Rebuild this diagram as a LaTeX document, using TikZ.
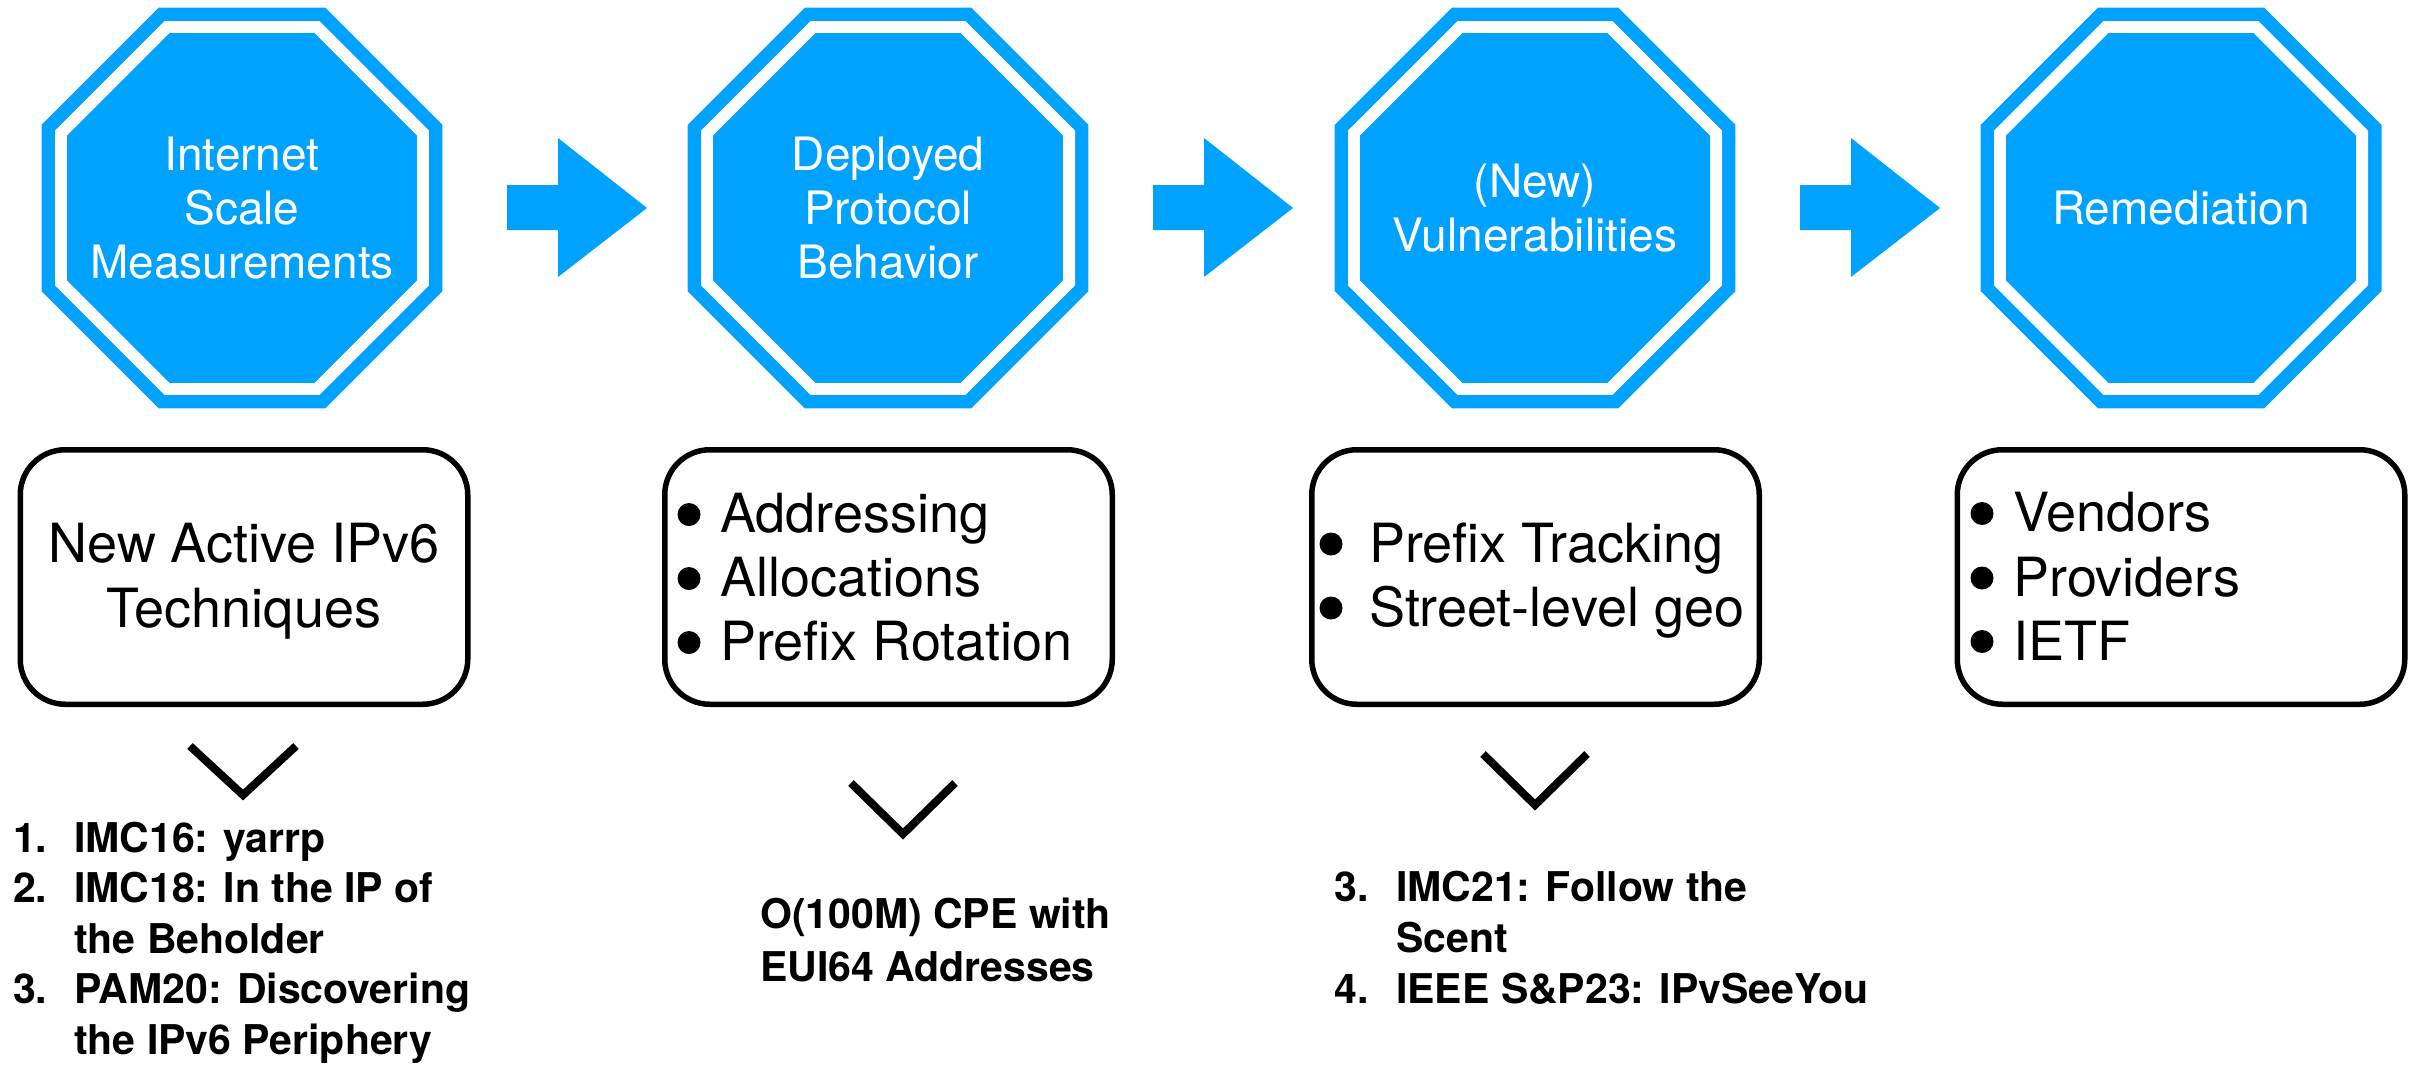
\documentclass[tikz,border=0pt]{standalone}
\usepackage{fontspec}
\setmainfont{TeX Gyre Heros}
\usetikzlibrary{calc}
\definecolor{kblue}{RGB}{0,162,255}
\def\octR#1{(22.5:#1) -- (67.5:#1) -- (112.5:#1) -- (157.5:#1) -- (202.5:#1) -- (247.5:#1) -- (292.5:#1) -- (337.5:#1) -- cycle}
\tikzset{
  octa/.pic={
    \fill[kblue] \octR{217};
    \fill[white] \octR{202.4};
    \fill[kblue] \octR{189.4};
  },
  octtext/.style={text=white, align=center, inner sep=0pt, font=\fontsize{46}{54}\selectfont},
  box/.style={draw=black, line width=5.5pt, rounded corners=45pt, minimum width=447.5pt, minimum height=254.5pt, inner sep=0pt},
  boxtext/.style={inner sep=0pt, anchor=base west, font=\fontsize{54}{64}\selectfont},
  bulletdot/.style={circle, fill=black, inner sep=0pt, minimum size=23pt},
  listtext/.style={inner sep=0pt, anchor=base west, font=\fontsize{41}{50}\selectfont\bfseries},
  chev/.style={line width=8pt, miter limit=10},
  blockarrow/.style={fill=kblue}
}
\begin{document}
\begin{tikzpicture}[x=1pt,y=-1pt]
\useasboundingbox (0,0) rectangle (2424,1066);

% octagons
\foreach \c/\n in {242/1,888/2,1535/3,2181/4}{
  \coordinate (o\n) at (\c,208);
  \pic at (o\n) {octa};
}
\node[octtext] (ot1) at (o1) {Internet\\Scale\\Measurements};
\node[octtext] (ot2) at (o2) {Deployed\\Protocol\\Behavior};
\node[octtext] (ot3) at (o3) {(New)\\Vulnerabilities};
\node[octtext] (ot4) at (o4) {Remediation};

% block arrows
\foreach \c in {242,888,1535}{
  \fill[blockarrow] (\c+265,185) -- (\c+316,185) -- (\c+316,138) -- (\c+405,208)
     -- (\c+316,277) -- (\c+316,230) -- (\c+265,230) -- cycle;
}

% boxes
\node[box] (b1) at (244,577) {};
\node[box] (b2) at (888.5,577) {};
\node[box] (b3) at (1535.5,577) {};
\node[box] (b4) at (2181,577) {};

\node[boxtext, anchor=base] (b1a) at (244,562) {New Active IPv6};
\node[boxtext, anchor=base] (b1b) at (244,627) {Techniques};

\node[bulletdot] (d2a) at (689,514.5) {};
\node[bulletdot] (d2b) at (689,578.5) {};
\node[bulletdot] (d2c) at (689,642.5) {};
\node[boxtext] (b2a) at (720,532) {Addressing};
\node[boxtext] (b2b) at (720,596) {Allocations};
\node[boxtext] (b2c) at (720,660) {Prefix Rotation};

\node[bulletdot] (d3a) at (1331,544) {};
\node[bulletdot] (d3b) at (1331,608) {};
\node[boxtext] (b3a) at (1369,562) {Prefix Tracking};
\node[boxtext] (b3b) at (1369,626) {Street-level geo};

\node[bulletdot] (d4a) at (1982,513.5) {};
\node[bulletdot] (d4b) at (1982,578) {};
\node[bulletdot] (d4c) at (1982,641.5) {};
\node[boxtext] (b4a) at (2013,531) {Vendors};
\node[boxtext] (b4b) at (2013,596) {Providers};
\node[boxtext] (b4c) at (2013,660) {IETF};

% chevrons
\draw[chev] (190,746) -- (243,795) -- (296,746);
\draw[chev] (851,783) -- (903,834) -- (955,783);
\draw[chev] (1483,754) -- (1535,805) -- (1587,754);

% lists
\node[listtext] (l1) at (13,852) {\makebox[61pt][l]{1.}IMC16: yarrp};
\node[listtext] (l2) at (13,902.5) {\makebox[61pt][l]{2.}IMC18: In the IP of};
\node[listtext] (l3) at (74,953) {the Beholder};
\node[listtext] (l4) at (13,1003.5) {\makebox[61pt][l]{3.}PAM20: Discovering};
\node[listtext] (l5) at (74,1054) {the IPv6 Periphery};

\node[listtext] (m1) at (760,928) {O(100M) CPE with};
\node[listtext] (m2) at (760,981) {EUI64 Addresses};

\node[listtext] (r1) at (1334,901) {\makebox[62pt][l]{3.}IMC21: Follow the};
\node[listtext] (r2) at (1396,952) {Scent};
\node[listtext] (r3) at (1334,1003) {\makebox[62pt][l]{4.}IEEE S\&P23: IPvSeeYou};
\end{tikzpicture}
\end{document}
